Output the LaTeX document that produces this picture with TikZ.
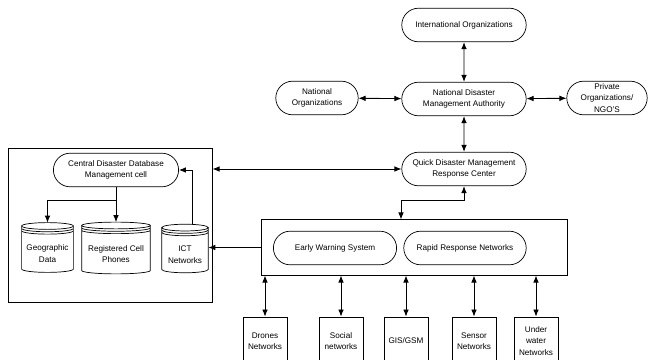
\documentclass[tikz,border=0pt]{standalone}
\usepackage{fontspec}
\setmainfont{Liberation Sans}
\usetikzlibrary{arrows.meta,shapes.misc,calc}

\newcommand{\dbry}{2.4pt}
\newcommand{\dbgap}{\rule{0pt}{13pt}}
% stacked disk look for the database nodes
\newcommand{\dbdraw}[1]{%
  \draw[dbLine] let \p1=(#1.north west), \p2=(#1.south east), \n1={(\x2-\x1)/2} in
    ({\x1+\n1},{\y1-\dbry}) ellipse[x radius=\n1, y radius=\dbry]
    (\x1,{\y1-\dbry}) -- (\x1,{\y2+\dbry})
      arc[start angle=180, end angle=360, x radius=\n1, y radius=\dbry]
      -- (\x2,{\y1-\dbry})
    (\x1,{\y1-\dbry-1.7pt}) arc[start angle=180, end angle=360, x radius=\n1, y radius=\dbry]
    (\x1,{\y1-\dbry-3.4pt}) arc[start angle=180, end angle=360, x radius=\n1, y radius=\dbry];
}

\begin{document}
\begin{tikzpicture}[x=0.025cm, y=-0.025cm,
    >={Latex[length=5pt,width=4pt]},
    every node/.style={font=\fontsize{5.8}{8.2}\selectfont, align=center},
    dmPill/.style={draw, rounded rectangle, line width=0.5pt, inner sep=1pt,
        minimum width=3.18cm, minimum height=0.84cm},
    dmBox/.style={draw, rectangle, line width=0.6pt, inner sep=0pt},
    dmNet/.style={draw, rectangle, line width=0.6pt, inner sep=1pt,
        minimum width=1.1cm, minimum height=1.2cm},
    dbNode/.style={inner sep=0pt},
    dbLine/.style={line width=0.5pt},
    dmArr/.style={->, line width=0.6pt},
    dmDbl/.style={<->, line width=0.6pt},
]
\useasboundingbox (0,0) rectangle (651,360);
% top hierarchy
\node[dmPill] (intl) at (464,25) {International Organizations};
\node[dmPill] (ndma) at (464,99) {National Disaster\\Management Authority};
\node[dmPill, minimum width=2.13cm] (natorg) at (317,98) {National\\Organizations};
\node[dmPill, minimum width=2.08cm] (priv) at (607,98) {Private\\Organizations/\\NGO'S};
\node[dmPill] (qdm) at (464,169) {Quick Disaster Management\\Response Center};
\draw[dmDbl] (intl) -- (ndma);
\draw[dmDbl] (natorg) -- (ndma);
\draw[dmDbl] (ndma) -- (priv);
\draw[dmDbl] (ndma) -- (qdm);
% database cell
\node[dmBox, minimum width=5.08cm, minimum height=3.85cm] (cell) at (110.5,225) {};
\node[dmPill, minimum width=3.2cm] (cddm) at (116,170) {Central Disaster Database\\Management cell};
\node[dbNode, minimum width=1.28cm, minimum height=1.23cm] (geo) at (47.5,247.5) {\dbgap Geographic\\Data};
\node[dbNode, minimum width=1.7cm, minimum height=1.28cm] (reg) at (116,248) {\dbgap Registered Cell\\Phones};
\node[dbNode, minimum width=1.15cm, minimum height=1.2cm] (ict) at (185,248.5) {\dbgap ICT\\Networks};
\dbdraw{geo}
\dbdraw{reg}
\dbdraw{ict}
\coordinate (split) at (116,200);
\draw[line width=0.6pt] (cddm.south) -- (split);
\draw[dmArr] (split) -| (geo.north);
\draw[dmArr] (split) -- (reg.north);
\draw[dmArr] ([xshift=0.18cm]ict.north) |- (cddm.east);
\draw[dmDbl] (cell.east |- qdm.west) -- (qdm.west);
% warning and response block
\node[dmBox, minimum width=7.63cm, minimum height=1.38cm] (resp) at (414.5,247.5) {};
\node[dmPill, minimum width=3.15cm] (ews) at (335,248) {Early Warning System};
\node[dmPill, minimum width=3.13cm] (rrn) at (465,248) {Rapid Response Networks};
\coordinate (bend) at (401,200);
\draw[dmDbl] (qdm.south) |- (bend) -- (bend |- resp.north);
\draw[dmArr] (resp.west) -- (resp.west -| ict.east);
% sensing networks
\node[dmNet] (drones) at (265,341) {Drones\\Networks};
\node[dmNet] (social) at (341,341) {Social\\networks};
\node[dmNet] (gis) at (406,341) {GIS/GSM};
\node[dmNet] (sensor) at (474,341) {Sensor\\Networks};
\node[dmNet] (under) at (536,341) {Under\\water\\Networks};
\foreach \n in {drones,social,gis,sensor,under}
    \draw[dmDbl] (resp.south -| \n.north) -- (\n.north);
\end{tikzpicture}
\end{document}
